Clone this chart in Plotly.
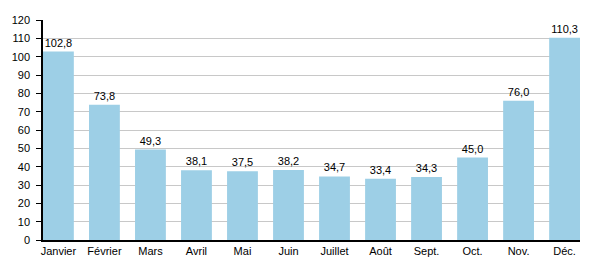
import plotly.graph_objects as go

months = ["Janvier", "Février", "Mars", "Avril", "Mai", "Juin", "Juillet", "Août", "Sept.", "Oct.", "Nov.", "Déc."]
values = [102.8, 73.8, 49.3, 38.1, 37.5, 38.2, 34.7, 33.4, 34.3, 45.0, 76.0, 110.3]
labels = [f"{v:.1f}".replace(".", ",") for v in values]
yticks = list(range(0, 121, 10))

x = list(range(len(months)))
fig = go.Figure(go.Bar(
    x=x, y=values, width=0.67,
    marker=dict(color="#9dcfe6", line=dict(width=0)),
    text=labels, textposition="outside", cliponaxis=False,
    textfont=dict(family="Liberation Sans, Arial", size=11, color="#000"),
))
fig.update_layout(
    width=600, height=280,
    margin=dict(l=40, r=20, t=20, b=40),
    paper_bgcolor="white", plot_bgcolor="white",
    font=dict(family="Liberation Sans, Arial", size=11, color="#000"),
    showlegend=False,
    xaxis=dict(range=[-0.335, 11.335], tickmode="array", tickvals=x, ticktext=months,
               showline=True, linecolor="#000", linewidth=1.5, ticks="", showgrid=False,
               zeroline=False, fixedrange=True),
    yaxis=dict(range=[0, 120], tickvals=yticks, showline=True, linecolor="#000", linewidth=1.5,
               ticks="outside", ticklen=5, tickcolor="#000", showgrid=True, gridcolor="#c8c8c8",
               gridwidth=1, zeroline=False, ticklabelstandoff=4),
)
fig.write_html("out.html")
